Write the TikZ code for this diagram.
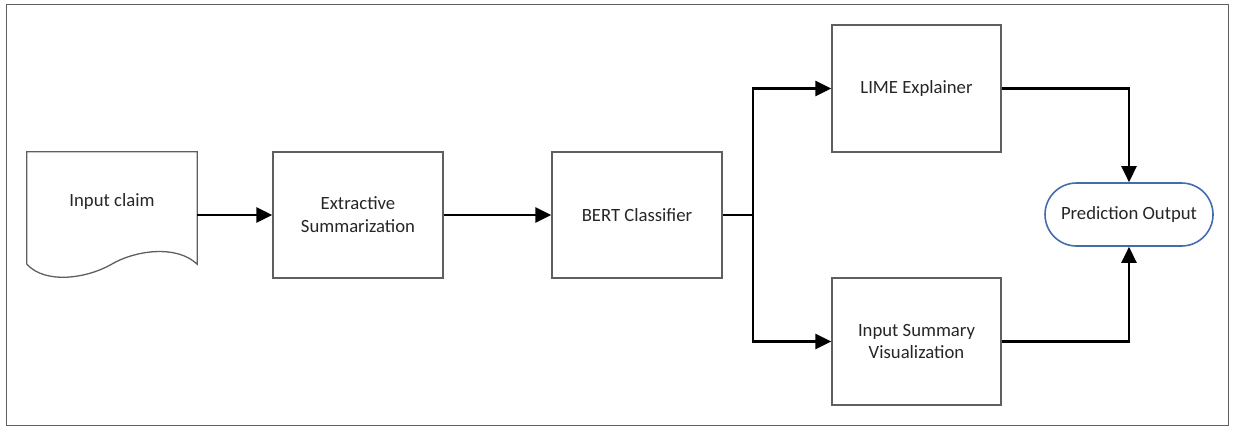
\documentclass[tikz,border=0pt]{standalone}
\usepackage{fontspec}
\setmainfont{Carlito}
\usetikzlibrary{arrows.meta,shapes.misc}
\definecolor{boxgray}{RGB}{95,95,95}
\definecolor{txtgray}{RGB}{38,38,38}
\definecolor{termblue}{RGB}{68,108,172}
\begin{document}
\begin{tikzpicture}[x=1pt,y=-1pt,
  every node/.style={font=\fontsize{18.7pt}{22.8pt}\selectfont, text=txtgray, align=center},
  procbox/.style={draw=boxgray, line width=1.3pt, inner sep=0pt,
                  minimum width=170pt, minimum height=126pt},
  docshape/.style={draw=boxgray, line width=1.3pt, line join=miter},
  terminal/.style={rounded rectangle, draw=termblue, line width=1.6pt, inner sep=0pt,
                   minimum width=168pt, minimum height=63pt},
  wire/.style={line width=2.4pt, black},
  conn/.style={wire, -{Triangle[length=16pt,width=15pt]}}]

\useasboundingbox (0,0) rectangle (1233,428);
% frame
\draw[boxgray, line width=1.2pt] (6.5,4.5) rectangle (1228.5,425.5);

% document symbol with wavy bottom
\node[minimum width=170pt, minimum height=112pt, inner sep=0pt] (claim) at (112,208) {};
\draw[docshape] (claim.south west) -- (claim.north west) -- (claim.north east)
  -- (claim.south east) .. controls (176,244) and (134,251) .. (112,264)
  .. controls (88,278) and (46,285) .. (claim.south west);
\node (claimtext) at (112,202) {Input claim};

% processing steps
\node[procbox] (ext)  at (358,215) {Extractive\\Summarization};
\node[procbox] (bert) at (637,215) {BERT Classifier};
\node[procbox, minimum width=169pt, minimum height=127pt] (lime) at (916.5,88.5) {LIME Explainer};
\node[procbox, minimum width=169pt, minimum height=127pt] (viz)  at (916.5,341.5) {Input Summary\\Visualization};
\node[terminal] (pred) at (1129,214.5) {Prediction Output};

% connectors
\coordinate (split) at (753,215);
\draw[conn] (claim.east |- ext.west) -- (ext.west);
\draw[conn] (ext.east) -- (bert.west);
\draw[wire] (bert.east) -- (split);
\draw[conn] (split) |- (lime.west);
\draw[conn] (split) |- (viz.west);
\draw[conn] (lime.east) -| (pred.north);
\draw[conn] (viz.east) -| (pred.south);
\end{tikzpicture}
\end{document}
